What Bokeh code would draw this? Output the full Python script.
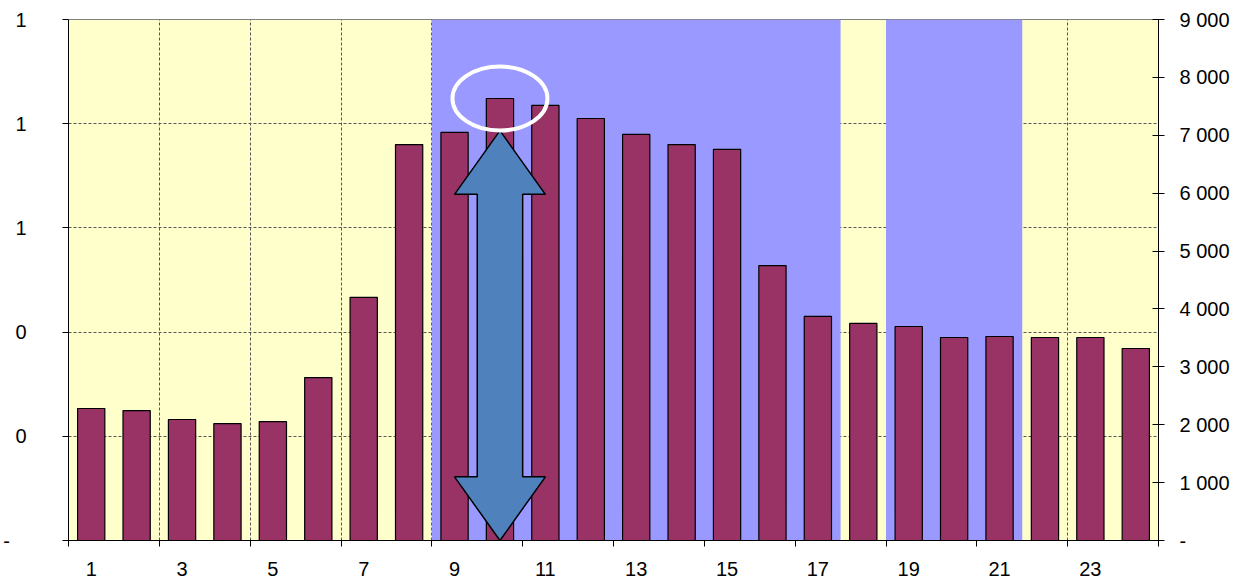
from bokeh.plotting import figure
from bokeh.models import Range1d, LinearAxis, FixedTicker, CustomJSTickFormatter
from bokeh.embed import file_html
from bokeh.resources import INLINE

# ---- data ----
HOURS = [1, 2, 3, 4, 5, 6, 7, 8, 9, 10, 11, 12, 13, 14, 15, 16, 17, 18, 19, 20, 21, 22, 23, 24]
VALUES = [2280, 2245, 2090, 2020, 2055, 2815, 4200, 6840, 7050, 7635, 7515, 7290,
          7015, 6840, 6755, 4750, 3870, 3750, 3697, 3507, 3524, 3507, 3507, 3317]
SHADED = [0, 0, 0, 0, 0, 0, 0, 0, 1, 1, 1, 1, 1, 1, 1, 1, 1, 0, 1, 1, 1, 0, 0, 0]
X_LABEL_HOURS = [1, 3, 5, 7, 9, 11, 13, 15, 17, 19, 21, 23]
X_TICK_BOUNDS = [0.5, 2.5, 4.5, 6.5, 8.5, 10.5, 12.5, 14.5, 16.5, 18.5, 20.5, 22.5, 24.5]
LEFT_TICKS = [0, 0.2, 0.4, 0.6, 0.8, 1.0]
RIGHT_TICKS = [0, 1000, 2000, 3000, 4000, 5000, 6000, 7000, 8000, 9000]
RIGHT_MAX = 9000

# annotation (arrow) geometry, in data units
ARROW_TOP = 7080
ARROW_BOTTOM = 0
ARROW_HEAD_LEN = 1100
ARROW_HEAD_HALF = 1.0
ARROW_SHAFT_HALF = 0.5

FONT = "Liberation Sans"
FS = "20px"

p = figure(frame_width=1090, frame_height=521,
           x_range=Range1d(0.5, 24.5), y_range=Range1d(0, 1),
           output_backend="svg", toolbar_location=None,
           min_border_left=68, min_border_right=40, min_border_top=19, min_border_bottom=20)
p.extra_y_ranges = {"right": Range1d(0, RIGHT_MAX)}

p.background_fill_color = "#FFFFCC"
p.border_fill_color = "white"
p.outline_line_color = "#808080"
p.outline_line_width = 1

# grids
p.xgrid[0].ticker = FixedTicker(ticks=X_TICK_BOUNDS[1:-1])
p.ygrid[0].ticker = FixedTicker(ticks=LEFT_TICKS[1:-1])
for g in (p.xgrid[0], p.ygrid[0]):
    g.grid_line_color = "#555555"
    g.grid_line_dash = "3 2"
    g.grid_line_width = 1

# bottom axis
xa = p.xaxis[0]
xa.ticker = FixedTicker(ticks=X_LABEL_HOURS, minor_ticks=X_TICK_BOUNDS)
xa.major_tick_line_color = None
xa.minor_tick_line_color = "black"
xa.minor_tick_out = 6
xa.minor_tick_in = 0
xa.axis_line_color = "black"
xa.major_label_standoff = 15
xa.major_label_text_font = FONT
xa.major_label_text_font_size = FS
xa.major_label_text_color = "black"

# left axis
ya = p.yaxis[0]
ya.ticker = FixedTicker(ticks=LEFT_TICKS)
ya.formatter = CustomJSTickFormatter(
    code="if (tick < 1e-9) { return '-\\u00a0\\u00a0\\u00a0'; } return Math.round(tick).toFixed(0);")
ya.major_tick_out = 6
ya.major_tick_in = 0
ya.minor_tick_line_color = None
ya.axis_line_color = "black"
ya.major_label_standoff = 36
ya.major_label_text_font = FONT
ya.major_label_text_font_size = FS
ya.major_label_text_color = "black"

# right axis
ra = LinearAxis(y_range_name="right", ticker=FixedTicker(ticks=RIGHT_TICKS),
                formatter=CustomJSTickFormatter(
                    code="if (Math.abs(tick) < 1e-9) { return '-'; } "
                         "return Math.round(tick).toString().replace(/\\B(?=(\\d{3})+(?!\\d))/g, ' ');"))
ra.major_tick_in = 6
ra.major_tick_out = 6
ra.minor_tick_line_color = None
ra.axis_line_color = "black"
ra.major_label_standoff = 15
ra.major_label_text_font = FONT
ra.major_label_text_font_size = FS
ra.major_label_text_color = "black"
p.add_layout(ra, "right")

# shaded (blue) background spans from SHADED flags
lefts, rights = [], []
start = None
for h, s in zip(HOURS, SHADED):
    if s and start is None:
        start = h - 0.5
    if not s and start is not None:
        lefts.append(start)
        rights.append(h - 0.5)
        start = None
if start is not None:
    lefts.append(start)
    rights.append(HOURS[-1] + 0.5)
p.quad(left=lefts, right=rights, bottom=[0] * len(lefts), top=[RIGHT_MAX] * len(lefts),
       y_range_name="right", fill_color="#9999FF", line_color=None)

# bars
p.vbar(x=HOURS, top=VALUES, width=0.6, y_range_name="right",
       fill_color="#993366", line_color="black", line_width=1.2)

# double-headed arrow at peak hour
peak_i = max(range(len(VALUES)), key=lambda i: VALUES[i])
cx = HOURS[peak_i]
yt, yb = ARROW_TOP, ARROW_BOTTOM
hh, sh = ARROW_HEAD_HALF, ARROW_SHAFT_HALF
ax_ = [cx, cx + hh, cx + sh, cx + sh, cx + hh, cx, cx - hh, cx - sh, cx - sh, cx - hh]
ay_ = [yt, yt - ARROW_HEAD_LEN, yt - ARROW_HEAD_LEN, yb + ARROW_HEAD_LEN, yb + ARROW_HEAD_LEN,
       yb, yb + ARROW_HEAD_LEN, yb + ARROW_HEAD_LEN, yt - ARROW_HEAD_LEN, yt - ARROW_HEAD_LEN]
p.patch(ax_, ay_, y_range_name="right", fill_color="#4F81BD", line_color="black", line_width=1.5)

# white ellipse around the peak
p.ellipse(x=[cx], y=[VALUES[peak_i]], width=95, height=64, width_units="screen",
          height_units="screen", y_range_name="right", fill_color=None,
          line_color="white", line_width=4)

open("out.html", "w").write(file_html(p, INLINE))
